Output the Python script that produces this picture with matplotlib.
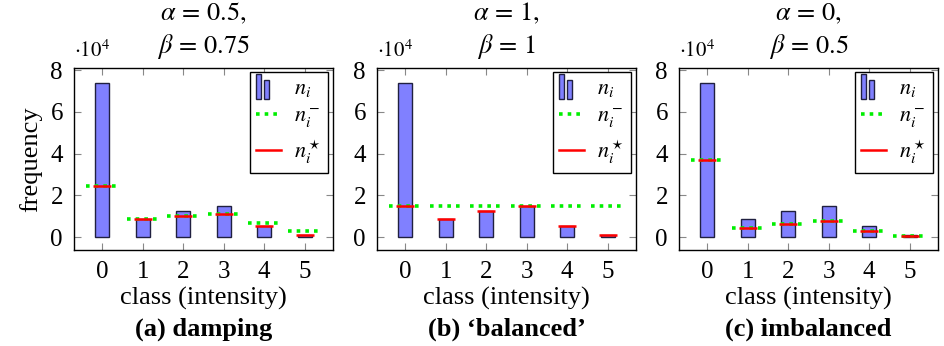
import numpy as np
import matplotlib
matplotlib.use("Agg")
import matplotlib.pyplot as plt
from matplotlib.patches import Rectangle
from matplotlib.lines import Line2D
from matplotlib.legend_handler import HandlerBase

plt.rcParams['font.family'] = ['Liberation Serif', 'DejaVu Serif']
plt.rcParams['mathtext.fontset'] = 'stix'

# data (x 10^4)
classes = [0, 1, 2, 3, 4, 5]
n_i = [7.38, 0.87, 1.26, 1.48, 0.52, 0.10]

titles = [r"$\alpha\,=\,0.5,$" + "\n" + r"$\beta\,=\,0.75$",
          r"$\alpha\,=\,1,$" + "\n" + r"$\beta\,=\,1$",
          r"$\alpha\,=\,0,$" + "\n" + r"$\beta\,=\,0.5$"]
captions = ["(a) damping", "(b) \u2018balanced\u2019", "(c) imbalanced"]

n_minus_a = [2.47, 0.85, 1.00, 1.11, 0.65, 0.30]
n_star_a = [2.47, 0.85, 1.00, 1.10, 0.51, 0.11]
n_minus_b = [1.48, 1.48, 1.48, 1.48, 1.48, 1.48]
n_star_b = [1.48, 0.87, 1.26, 1.48, 0.52, 0.10]
n_minus_c = [3.70, 0.45, 0.64, 0.76, 0.28, 0.06]
n_star_c = [3.70, 0.45, 0.64, 0.76, 0.28, 0.06]

n_minus_all = [n_minus_a, n_minus_b, n_minus_c]
n_star_all = [n_star_a, n_star_b, n_star_c]

bar_face = '#8080ff'
bar_edge = '#202040'


class TwoBarHandler(HandlerBase):
    def create_artists(self, legend, orig, xd, yd, w, h, fontsize, trans):
        bw = w * 0.18
        r1 = Rectangle((xd, yd - h * 0.3), bw, h * 1.6, facecolor=bar_face,
                       edgecolor=bar_edge, lw=1, transform=trans)
        r2 = Rectangle((xd + bw * 1.8, yd - h * 0.3), bw, h * 1.2, facecolor=bar_face,
                       edgecolor=bar_edge, lw=1, transform=trans)
        return [r1, r2]


fig = plt.figure(figsize=(9.45, 3.46), dpi=100)
W, H = 945.0, 346.0
lefts = [74, 377, 679]
ax_w = 259
ax_top, ax_bot = 68, 250

x = np.array(classes)
for k in range(3):
    ax = fig.add_axes([lefts[k] / W, 1 - ax_bot / H, ax_w / W, (ax_bot - ax_top) / H])
    ax.bar(x, n_i, width=0.34, color=bar_face, edgecolor=bar_edge, lw=1, zorder=2)
    nm = n_minus_all[k]
    ns = n_star_all[k]
    ax.hlines(nm, x - 0.4, x + 0.4, colors='#00ee00', linestyles=(0, (1, 1.4)),
              lw=2.6, zorder=3)
    ax.hlines(ns, x - 0.22, x + 0.22, colors='#ff0000', lw=1.8, zorder=4)
    ax.set_xlim(-0.7, 5.7)
    ax.set_ylim(-0.62, 8.1)
    ax.set_xticks(classes)
    ax.set_yticks([0, 2, 4, 6, 8])
    ax.tick_params(direction='in', length=5, color='#888888', top=True, right=True,
                   labelsize=18, pad=8)
    for s in ax.spines.values():
        s.set_linewidth(1.0)
    ax.set_xlabel("class (intensity)", fontsize=19, labelpad=3)
    if k == 0:
        ax.set_ylabel("frequency", fontsize=19, labelpad=6)
    ax.set_title(titles[k], fontsize=19, pad=11, linespacing=1.25)
    ax.text(0.0, 1.035, r"$\cdot 10^4$", transform=ax.transAxes, fontsize=15,
            ha='left', va='bottom')
    ax.text(0.5, -0.37, captions[k], transform=ax.transAxes, fontsize=19,
            fontweight='bold', ha='center', va='top')

    h_bar = Rectangle((0, 0), 1, 1)
    h_g = Line2D([], [], color='#00ee00', ls=(0, (1, 1.4)), lw=2.6)
    h_r = Line2D([], [], color='#ff0000', lw=1.8)
    leg = ax.legend([h_bar, h_g, h_r], [r"$n_i$", r"$n_i^-$", r"$n_i^\star$"],
                    handler_map={Rectangle: TwoBarHandler()},
                    loc='upper right', bbox_to_anchor=(0.98, 0.98),
                    frameon=True, fancybox=False, edgecolor='black', framealpha=1,
                    fontsize=16, handlelength=1.1, handletextpad=0.6,
                    labelspacing=0.35, borderpad=0.3, borderaxespad=0)
    leg.get_frame().set_linewidth(1.0)

fig.savefig("out.png", dpi=100)
